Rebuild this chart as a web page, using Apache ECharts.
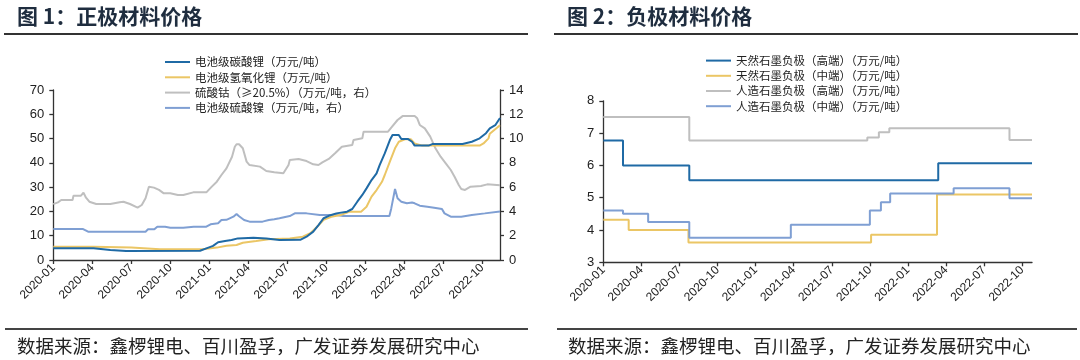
<!DOCTYPE html>
<html><head><meta charset="utf-8">
<script src="https://cdn.jsdelivr.net/npm/echarts@6/dist/echarts.min.js"></script>
<style>html,body{margin:0;padding:0;background:#fff}#c{width:1080px;height:360px}</style>
</head><body><div id="c"></div>
<script>
// ---------- tick labels ----------
const xTickLabels = ['2020-01','2020-04','2020-07','2020-10','2021-01','2021-04','2021-07','2021-10','2022-01','2022-04','2022-07','2022-10'];
const leftEnd = '2022-11-12';
const rightEnd = '2022-10-25';

// ---------- 图1 正极材料 ----------
const lcName = '电池级碳酸锂（万元/吨）';
const lhName = '电池级氢氧化锂（万元/吨）';
const coName = '硫酸钴（≥20.5%）（万元/吨，右）';
const niName = '电池级硫酸镍（万元/吨，右）';

const lcData = [['2020-01-01',4.8],['2020-04-04',4.8],['2020-05-13',4.1],['2020-06-19',3.7],['2020-12-10',3.8],['2020-12-25',4.8],
['2021-01-10',5.8],['2021-01-22',7.3],['2021-02-07',7.8],['2021-02-21',8.2],['2021-03-07',8.9],['2021-04-13',9.2],['2021-05-13',8.9],
['2021-06-13',8.2],['2021-08-01',8.3],['2021-08-16',9.6],['2021-09-01',11.7],['2021-09-13',14.4],['2021-09-25',17.2],['2021-10-07',18.2],
['2021-10-25',19.2],['2021-11-19',19.9],['2021-12-01',21.0],['2021-12-13',24.0],['2021-12-25',26.8],['2022-01-04',29.5],['2022-01-16',32.9],
['2022-01-28',35.7],['2022-02-04',39.1],['2022-02-15',43.9],['2022-02-26',49.4],['2022-03-04',51.5],['2022-03-19',51.5],['2022-03-25',49.8],
['2022-04-10',49.8],['2022-04-19',48.7],['2022-04-25',47.1],['2022-05-28',47.1],['2022-06-07',47.8],['2022-08-16',47.8],['2022-09-07',48.7],
['2022-09-25',50.1],['2022-10-10',52.2],['2022-10-19',54.2],['2022-11-01',55.5],['2022-11-12',58.5]];

const lhData = [['2020-01-01',5.5],['2020-04-04',5.5],['2020-07-01',5.1],['2020-09-07',4.4],['2020-12-16',4.4],['2021-01-19',5.1],
['2021-02-10',5.9],['2021-03-04',6.2],['2021-03-19',7.1],['2021-04-19',7.8],['2021-05-19',8.5],['2021-07-07',8.9],['2021-08-07',9.6],
['2021-08-25',11.0],['2021-09-10',13.7],['2021-09-25',16.5],['2021-10-13',17.8],['2021-11-04',18.5],['2021-11-25',19.9],['2021-12-22',19.9],
['2022-01-04',21.9],['2022-01-16',26.1],['2022-01-28',28.8],['2022-02-09',32.2],['2022-02-15',35.0],['2022-02-26',40.5],['2022-03-10',46.0],
['2022-03-19',48.7],['2022-04-04',49.8],['2022-04-16',49.7],['2022-04-25',48.0],['2022-05-13',47.1],['2022-09-25',47.1],['2022-10-04',48.0],
['2022-10-16',50.1],['2022-10-19',52.0],['2022-11-12',55.5]];

const coData = [['2020-01-01',4.6],['2020-01-12',4.75],['2020-01-20',4.94],['2020-02-15',4.94],['2020-02-17',5.3],['2020-03-05',5.3],
['2020-03-11',5.55],['2020-03-17',5.13],['2020-03-25',4.8],['2020-04-10',4.61],['2020-05-13',4.61],['2020-06-04',4.75],['2020-06-13',4.8],
['2020-06-28',4.61],['2020-07-16',4.31],['2020-07-26',4.53],['2020-08-04',5.08],['2020-08-12',6.04],['2020-08-24',5.96],['2020-09-05',5.77],
['2020-09-16',5.49],['2020-10-01',5.49],['2020-10-19',5.35],['2020-11-01',5.35],['2020-11-24',5.57],['2020-12-25',5.57],['2021-01-07',6.04],
['2021-01-19',6.45],['2021-01-30',7.0],['2021-02-10',7.55],['2021-02-22',8.5],['2021-02-28',9.33],['2021-03-04',9.53],['2021-03-10',9.53],
['2021-03-19',9.2],['2021-03-28',8.1],['2021-04-04',7.82],['2021-04-28',7.69],['2021-05-13',7.33],['2021-06-01',7.22],['2021-06-22',7.14],
['2021-07-04',7.82],['2021-07-07',8.24],['2021-07-28',8.32],['2021-08-16',8.15],['2021-09-01',7.88],['2021-09-13',7.82],['2021-09-22',8.04],
['2021-10-07',8.32],['2021-10-22',8.79],['2021-11-07',9.33],['2021-12-01',9.47],['2021-12-04',9.88],['2021-12-25',10.02],['2021-12-28',10.57],
['2022-02-22',10.57],['2022-03-01',10.9],['2022-03-16',11.53],['2022-03-28',11.85],['2022-04-25',11.85],['2022-05-01',11.67],['2022-05-07',11.12],
['2022-05-19',10.84],['2022-06-01',10.16],['2022-06-13',9.2],['2022-06-25',8.51],['2022-07-07',7.96],['2022-07-19',7.41],['2022-07-28',6.86],
['2022-08-07',6.18],['2022-08-13',5.85],['2022-08-22',5.77],['2022-09-04',6.04],['2022-09-28',6.1],['2022-10-13',6.23],['2022-11-12',6.15]];

const niData = [['2020-01-01',2.55],['2020-03-10',2.55],['2020-03-22',2.33],['2020-08-04',2.33],['2020-08-10',2.53],['2020-08-25',2.53],
['2020-09-01',2.74],['2020-09-19',2.74],['2020-10-01',2.66],['2020-11-01',2.66],['2020-11-25',2.74],['2020-12-25',2.74],['2021-01-04',2.94],
['2021-01-22',3.02],['2021-01-30',3.29],['2021-02-10',3.31],['2021-02-25',3.57],['2021-03-04',3.79],['2021-03-10',3.6],['2021-03-22',3.29],
['2021-04-04',3.16],['2021-05-04',3.16],['2021-05-19',3.29],['2021-06-01',3.35],['2021-06-13',3.43],['2021-07-07',3.62],['2021-07-19',3.84],
['2021-08-16',3.84],['2021-09-16',3.71],['2021-10-25',3.71],['2021-11-10',3.62],['2022-02-25',3.62],['2022-03-01',4.25],['2022-03-10',5.85],
['2022-03-16',5.08],['2022-03-25',4.8],['2022-04-07',4.67],['2022-04-19',4.73],['2022-04-25',4.67],['2022-05-07',4.47],['2022-05-25',4.39],
['2022-06-10',4.31],['2022-06-28',4.2],['2022-07-04',3.84],['2022-07-19',3.57],['2022-08-13',3.57],['2022-09-07',3.71],['2022-10-07',3.84],
['2022-11-12',4.0]];

// ---------- 图2 负极材料 (change points, step) ----------
const ngHName = '天然石墨负极（高端）（万元/吨）';
const ngMName = '天然石墨负极（中端）（万元/吨）';
const agHName = '人造石墨负极（高端）（万元/吨）';
const agMName = '人造石墨负极（中端）（万元/吨）';

const ngHData = [['2020-01-01',6.77],['2020-02-17',6.0],['2020-07-25',5.54],['2022-03-13',6.07],['2022-10-25',6.07]];
const ngMData = [['2020-01-01',4.32],['2020-03-01',4.0],['2020-07-23',3.61],['2021-10-04',3.85],['2022-03-10',5.1],['2022-10-25',5.1]];
const agHData = [['2020-01-01',7.5],['2020-07-25',6.77],['2021-09-25',6.86],['2021-10-23',7.03],['2021-11-17',7.15],['2022-09-01',6.79],['2022-10-25',6.79]];
const agMData = [['2020-01-01',4.6],['2020-02-17',4.5],['2020-04-17',4.25],['2020-07-25',3.76],['2021-03-25',4.16],['2021-09-20',4.16],['2021-10-01',4.6],
['2021-10-28',4.86],['2021-11-19',5.13],['2022-04-19',5.29],['2022-09-01',4.98],['2022-10-25',4.98]];

// ---------- helpers ----------
function mIdx(s){const p=s.split('-').map(Number);const dim=new Date(p[0],p[1],0).getDate();return (p[0]-2020)*12+(p[1]-1)+(p[2]-1)/dim;}
function conv(arr){return arr.map(d=>[mIdx(d[0]),d[1]]);}
const C_DB='#1f6aa5', C_Y='#ebc665', C_G='#bfbfbf', C_LB='#7f9fd3';
const FONT_NUM='"Liberation Sans", Arial, sans-serif';
const FONT_CJK='"Noto Sans CJK SC", sans-serif';
const axisLine={show:true,lineStyle:{color:'#333',width:1.3}};
const axisTick={show:true,length:4,lineStyle:{color:'#333',width:1.3}};
function xAxisDef(gridIndex,max){
  return {type:'value',gridIndex,min:0,max,interval:3,axisLine,axisTick,splitLine:{show:false},
    axisLabel:{rotate:45,margin:6,fontSize:12,fontFamily:FONT_NUM,color:'#222',showMaxLabel:false,
      formatter:v=>{const i=Math.round(v/3);return (Math.abs(v-i*3)<1e-6&&xTickLabels[i])?xTickLabels[i]:'';}}};
}
function yAxisDef(gridIndex,min,max,interval,pos){
  return {type:'value',gridIndex,min,max,interval,position:pos,axisLine,axisTick,splitLine:{show:false},
    axisLabel:{margin:9,fontSize:13,fontFamily:FONT_NUM,color:'#222'}};
}
function line(name,data,color,xi,yi,step){
  const s={type:'line',name,data:conv(data),xAxisIndex:xi,yAxisIndex:yi,symbol:'none',showSymbol:false,
    lineStyle:{width:2,color},itemStyle:{color},emphasis:{disabled:true},animation:false};
  if(step) s.step='end';
  return s;
}
const legendText={fontSize:11.5,lineHeight:12,fontFamily:FONT_CJK,color:'#222'};
const chart=echarts.init(document.getElementById('c'));
chart.setOption({
  animation:false,
  grid:[{left:53.3,top:90,width:446.7,height:170},{left:603.3,top:100.8,width:428.7,height:161.5}],
  xAxis:[xAxisDef(0,mIdx(leftEnd)),xAxisDef(1,mIdx(rightEnd))],
  yAxis:[yAxisDef(0,0,70,10,'left'),yAxisDef(0,0,14,2,'right'),yAxisDef(1,3,8,1,'left')],
  legend:[
    {orient:'vertical',left:160,top:51,icon:'rect',itemWidth:25,itemHeight:2,itemGap:3.3,selectedMode:false,
     textStyle:legendText,data:[lcName,lhName,coName,niName]},
    {orient:'vertical',left:701,top:49.6,icon:'rect',itemWidth:25,itemHeight:2,itemGap:3.2,selectedMode:false,
     textStyle:legendText,data:[ngHName,ngMName,agHName,agMName]}
  ],
  series:[
    line(coName,coData,C_G,0,1),
    line(niName,niData,C_LB,0,1),
    line(lhName,lhData,C_Y,0,0),
    line(lcName,lcData,C_DB,0,0),
    line(agHName,agHData,C_G,1,2,true),
    line(ngMName,ngMData,C_Y,1,2,true),
    line(agMName,agMData,C_LB,1,2,true),
    line(ngHName,ngHData,C_DB,1,2,true)
  ],
  graphic:[
    {type:'text',left:17,top:6,style:{text:'图 1：正极材料价格',font:'bold 21px "Noto Sans CJK SC"',fill:'#1f2d3f'}},
    {type:'text',left:567,top:6,style:{text:'图 2：负极材料价格',font:'bold 21px "Noto Sans CJK SC"',fill:'#1f2d3f'}},
    {type:'line',shape:{x1:4,y1:34,x2:528,y2:34},style:{stroke:'#333',lineWidth:2}},
    {type:'line',shape:{x1:554,y1:34,x2:1078,y2:34},style:{stroke:'#333',lineWidth:2}},
    {type:'line',shape:{x1:5,y1:329,x2:528,y2:329},style:{stroke:'#444',lineWidth:2}},
    {type:'line',shape:{x1:557,y1:329,x2:1077,y2:329},style:{stroke:'#444',lineWidth:2}},
    {type:'text',left:17,top:337,style:{text:'数据来源：鑫椤锂电、百川盈孚，广发证券发展研究中心',font:'18.5px "Noto Sans CJK SC"',fill:'#222'}},
    {type:'text',left:568,top:337,style:{text:'数据来源：鑫椤锂电、百川盈孚，广发证券发展研究中心',font:'18.5px "Noto Sans CJK SC"',fill:'#222'}}
  ]
});
</script></body></html>
